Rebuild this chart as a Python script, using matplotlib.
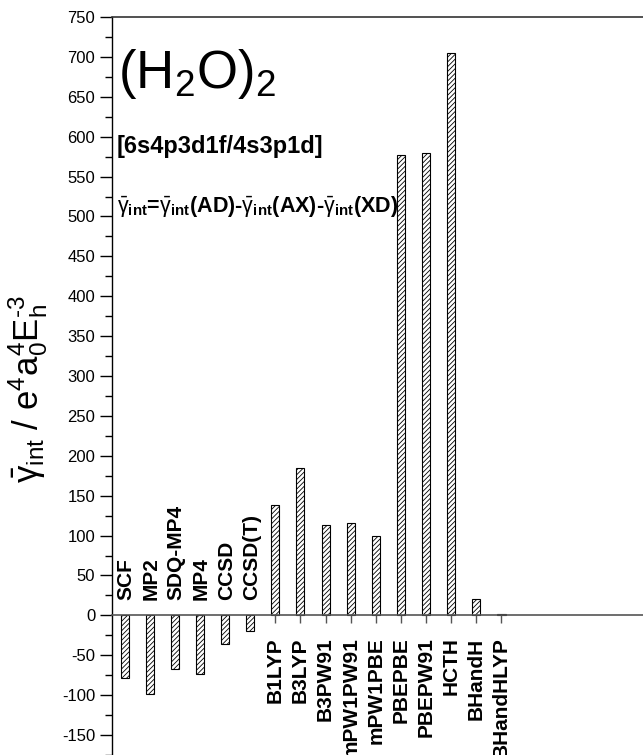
import numpy as np
import matplotlib
matplotlib.use("Agg")
import matplotlib.pyplot as plt

plt.rcParams['font.family'] = ['Liberation Sans', 'DejaVu Sans']
plt.rcParams['mathtext.fontset'] = 'custom'
plt.rcParams['mathtext.rm'] = 'Liberation Sans'
plt.rcParams['mathtext.it'] = 'Liberation Sans'
plt.rcParams['mathtext.bf'] = 'Liberation Sans:bold'
plt.rcParams['axes.unicode_minus'] = False
plt.rcParams['hatch.linewidth'] = 0.6

# methods: wavefunction (labels above zero) and DFT (labels below the axis)
wf_methods = ["SCF", "MP2", "SDQ-MP4", "MP4", "CCSD", "CCSD(T)"]
wf_values = [-78, -99, -67, -74, -36, -20]
dft_methods = ["B1LYP", "B3LYP", "B3PW91", "mPW1PW91", "mPW1PBE", "PBEPBE",
               "PBEPW91", "HCTH", "BHandH", "BHandHLYP"]
dft_values = [138, 185, 113, 116, 100, 577, 579, 705, 20, 2]

methods = wf_methods + dft_methods
values = wf_values + dft_values
x = np.arange(len(methods))

W, H = 643, 755
fig = plt.figure(figsize=(W / 100, H / 100), dpi=100)
ax = fig.add_axes([112 / W, 0, (700 - 112) / W, (H - 17) / H])

ax.bar(x, values, width=0.32, color="white", edgecolor="black",
       hatch="///////", linewidth=0.8)

ax.set_xlim(-0.5, 22.9)
ax.set_ylim(-172.5, 750)

# x axis at zero, ticks only for the DFT bars
ax.spines['bottom'].set_position(('data', 0))
ax.spines['bottom'].set_color("#555555")
ax.spines['bottom'].set_linewidth(1.2)
ax.spines['right'].set_visible(False)
ax.spines['top'].set_linewidth(1.2)
ax.spines['top'].set_color("#333333")
ax.spines['left'].set_linewidth(1.0)

ndft = len(wf_methods)
ax.set_xticks(x[ndft:])
ax.set_xticklabels(dft_methods, rotation=90, fontsize=15, fontweight="bold")
ax.tick_params(axis='x', direction='out', length=6, width=1, pad=10, color="#555555")

for xi, name in zip(x[:ndft], wf_methods):
    ax.text(xi + 0.05, 19, name, rotation=90, ha="center", va="bottom",
            fontsize=15, fontweight="bold")

ax.set_yticks(np.arange(-150, 751, 50))
ax.set_yticks(np.arange(-175, 751, 25), minor=True)
ax.tick_params(axis='y', which='major', direction='out', length=9, width=1, labelsize=12, pad=3)
ax.tick_params(axis='y', which='minor', direction='out', length=5, width=1)

ax.set_ylabel("$\\bar{\\gamma}_{\\mathrm{int}}\\ /\\ \\mathrm{e}^{4}\\mathrm{a}_{0}^{4}"
              "\\mathrm{E}_{\\mathrm{h}}^{\u2010\\mathrm{3}}$", fontsize=25)
ax.yaxis.set_label_coords(-0.105, 0.495)

fig.text(118 / W, 1 - 88 / H, r"$(\mathrm{H}_{2}\mathrm{O})_{2}$", fontsize=38,
         va="baseline", ha="left")
fig.text(117 / W, 1 - 153 / H, "[6s4p3d1f/4s3p1d]", fontsize=17,
         fontweight="bold", va="baseline", ha="left")
g = r"$\bar{\gamma}_{\mathbf{int}}$"
fig.text(117 / W, 1 - 213 / H,
         g + "=" + g + "(AD)-" + g + "(AX)-" + g + "(XD)",
         fontsize=15.5, fontweight="bold", va="baseline", ha="left")

plt.savefig("out.png", dpi=100)
